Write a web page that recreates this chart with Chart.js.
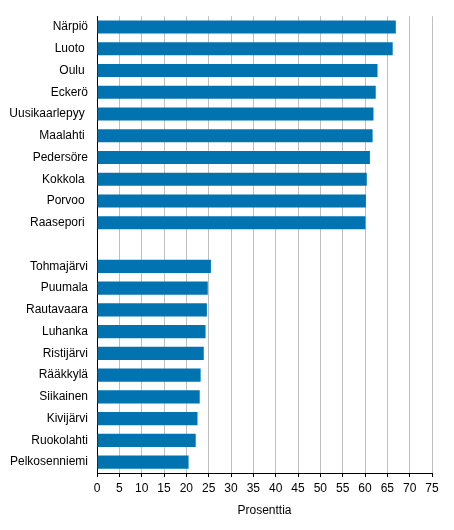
<!DOCTYPE html>
<html>
<head>
<meta charset="utf-8">
<script src="https://cdn.jsdelivr.net/npm/chart.js@4/dist/chart.umd.min.js"></script>
<style>
html,body{margin:0;padding:0;background:#fff;}
#wrap{width:454px;height:530px;position:relative;}
</style>
</head>
<body>
<div id="wrap"><canvas id="c" width="454" height="530"></canvas></div>
<script>
const categories = ["Närpiö","Luoto ","Oulu ","Eckerö","Uusikaarlepyy ","Maalahti ","Pedersöre","Kokkola ","Porvoo ","Raasepori ","",
  "Tohmajärvi","Puumala","Rautavaara","Luhanka","Ristijärvi","Rääkkylä","Siikainen","Kivijärvi","Ruokolahti","Pelkosenniemi"];
const values = [66.9,66.2,62.8,62.4,61.9,61.7,61.1,60.4,60.2,60.1,null,
  25.5,24.8,24.6,24.3,23.9,23.2,23.0,22.5,22.1,20.5];
const xTicks = [0,5,10,15,20,25,30,35,40,45,50,55,60,65,70,75];
const xTitle = "Prosenttia";

Chart.defaults.font.family = "'Liberation Sans', Arial, sans-serif";
Chart.defaults.font.size = 12;
Chart.defaults.color = "#000";

new Chart(document.getElementById('c'), {
  type: 'bar',
  data: {
    labels: categories,
    datasets: [{
      data: values,
      backgroundColor: '#0073b0',
      borderWidth: 0,
      barPercentage: 0.6,
      categoryPercentage: 1.0
    }]
  },
  options: {
    indexAxis: 'y',
    responsive: false,
    animation: false,
    devicePixelRatio: 1,
    layout: { padding: { left: 0, right: 22, top: 15, bottom: 12 } },
    plugins: { legend: { display: false }, tooltip: { enabled: false } },
    scales: {
      x: {
        min: 0, max: 75,
        afterBuildTicks: (s) => { s.ticks = xTicks.map(v => ({ value: v })); },
        afterFit: (s) => { s.height = 45; },
        grid: { color: '#bfbfbf', lineWidth: 1, tickLength: 4, tickColor: '#000' },
        border: { display: true, color: '#000', width: 1 },
        ticks: { padding: 4, color: '#000', font: { size: 12 } },
        title: { display: true, text: xTitle, color: '#000', font: { size: 12 }, padding: { top: 4, bottom: 0 } }
      },
      y: {
        afterFit: (s) => { s.width = 97; },
        grid: { display: false, drawTicks: false, tickLength: 0 },
        border: { display: true, color: '#000', width: 1 },
        ticks: { padding: 9, color: '#000', font: { size: 12 }, autoSkip: false }
      }
    }
  }
});
</script>
</body>
</html>
